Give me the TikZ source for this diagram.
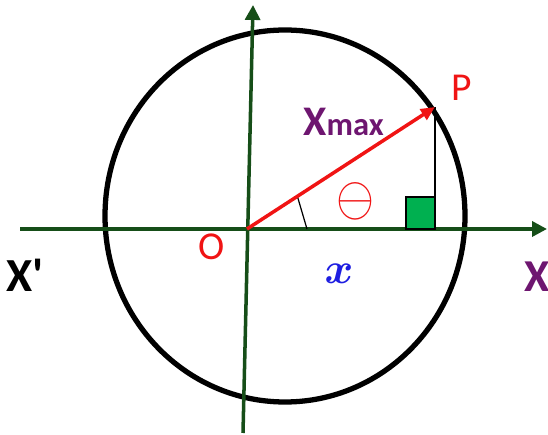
\documentclass[tikz,border=0pt]{standalone}
\usepackage{fontspec}
\setmainfont{Carlito}
\usepackage{amsmath, amssymb}
\usepackage{tikz}
\usetikzlibrary{arrows.meta, calc}
\definecolor{axisgreen}{RGB}{22, 78, 24}
\definecolor{boxgreen}{RGB}{0, 176, 80}
\definecolor{vecred}{RGB}{240, 20, 20}
\definecolor{labpurple}{RGB}{110, 22, 112}
\definecolor{labblue}{RGB}{30, 30, 225}
\tikzset{
  axisline/.style={line width=2pt, axisgreen, -{Triangle[length=8.5pt, width=8.5pt]}},
  radiusarrow/.style={line width=2pt, vecred, -{Triangle[length=8pt, width=7pt]}},
  thinline/.style={line width=0.7pt, black},
  rimline/.style={line width=3pt, black},
  biglabel/.style={inner sep=0pt, font=\fontsize{22.5}{23}\selectfont}
}

\begin{document}
\begin{tikzpicture}[x=0.02cm, y=-0.02cm]
    \useasboundingbox (0, 0) rectangle (548, 435);

    % key points
    \coordinate (O) at (247, 229);
    \coordinate (P) at (435, 107);
    \coordinate (Q) at (435, 229);
    \coordinate (xl) at (20, 229);
    \coordinate (xr) at (547, 229);
    \coordinate (yb) at (243, 433);
    \coordinate (yt) at (253, 5);

    % circle of radius Xmax
    \draw[rimline] (285, 216) ellipse [x radius=180, y radius=186];

    % axes
    \draw[axisline] (xl) -- (xr);
    \draw[axisline] (yb) -- (yt);

    % right angle box and projection
    \draw[thinline, fill=boxgreen] (406, 197) rectangle (Q);
    \draw[thinline] (P) -- (Q);

    % angle mark
    \coordinate (a1) at ($(O)!0.268!(P)$);
    \coordinate (a2) at (307, 229);
    \draw[thinline] (a1) -- (a2);

    % radius vector
    \draw[radiusarrow] (O) -- (P);

    % labels
    \node[biglabel, text=vecred] (lblP) at (462, 88) {P};
    \node[biglabel, text=vecred] (lblO) at (211.5, 247) {O};
    \node[inner sep=0pt, anchor=base west, text=labpurple, font=\bfseries] (lblXmax) at (303, 136) {{\fontsize{24}{24}\selectfont X}{\fontsize{18.5}{19}\selectfont max}};
    \node[inner sep=0pt, text=vecred] (lblTheta) at (355, 201) {\resizebox{0.76cm}{0.66cm}{$\ominus$}};
    \node[inner sep=0pt, anchor=base, text=labblue, font=\fontsize{29}{29}\selectfont] (lblx) at (339, 284) {$\boldsymbol{x}$};
    \node[inner sep=0pt, anchor=base west, font=\fontsize{27}{27}\selectfont\bfseries] (lblXl) at (6, 292) {X\textquotesingle};
    \node[inner sep=0pt, anchor=base west, text=labpurple, font=\fontsize{26}{26}\selectfont\bfseries] (lblXr) at (524, 292) {X};
\end{tikzpicture}
\end{document}
